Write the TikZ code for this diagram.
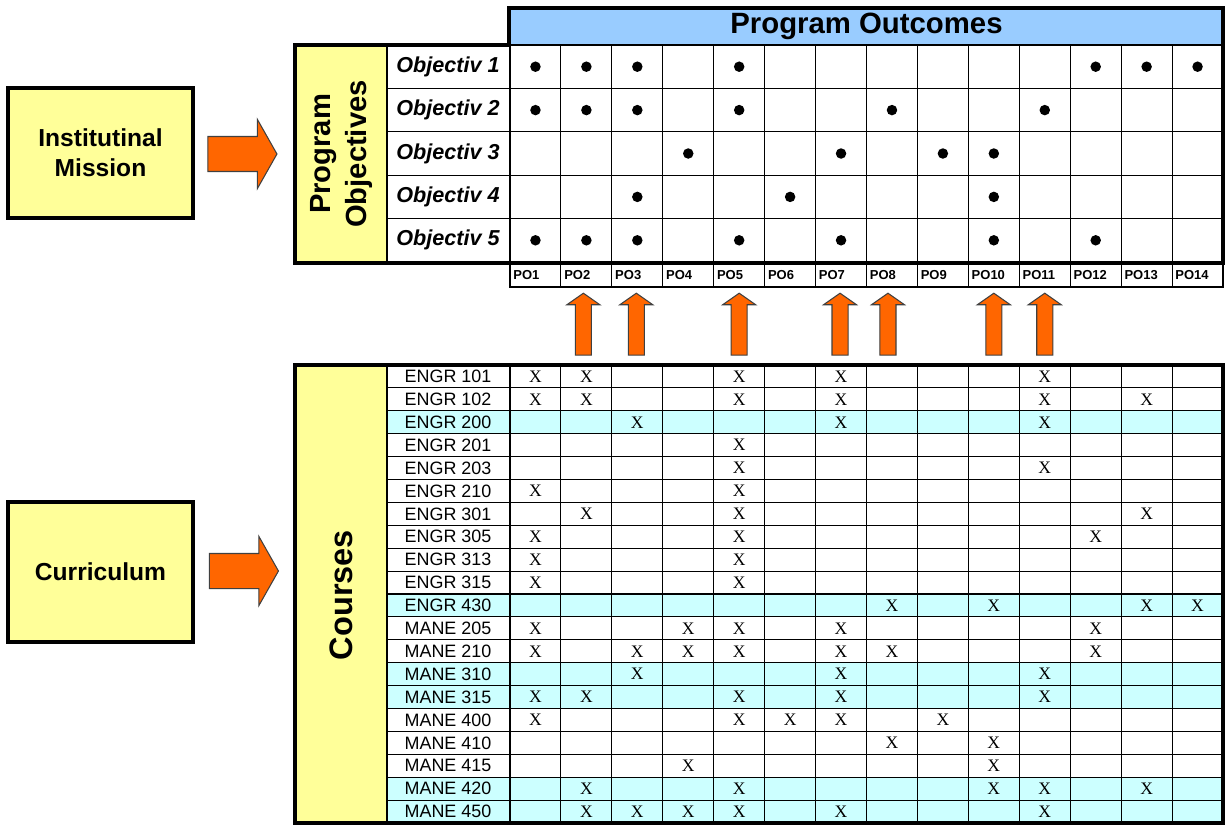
\documentclass[tikz,border=0pt]{standalone}
\usepackage{fontspec}
\setmainfont{Liberation Sans}
\newfontfamily\markfont{Liberation Serif}
\usetikzlibrary{shapes.arrows}
\definecolor{boxyellow}{HTML}{FFFF99}
\definecolor{headblue}{HTML}{99CCFF}
\definecolor{rowcyan}{HTML}{CCFFFF}
\definecolor{arroworange}{HTML}{FF6600}

\tikzset{
  frame/.style={line width=2.3pt},
  sepline/.style={line width=1.7pt},
  gridline/.style={line width=0.6pt},
  sidebox/.style={draw, line width=1.8pt, fill=boxyellow, align=center,
    font=\bfseries\fontsize{14}{17}\selectfont, minimum width=3.7cm},
  fatarrow/.style={single arrow, draw=black!75, fill=arroworange, line width=0.6pt,
    inner xsep=0pt},
  dot/.style={circle, fill=black, inner sep=0pt, minimum size=0.21cm},
  xmark/.style={font=\markfont\fontsize{10}{12}\selectfont, inner sep=0pt},
}

\begin{document}
\begin{tikzpicture}[x=0.02cm, y=-0.02cm]
  \useasboundingbox (0,0) rectangle (1225,825);
  \def\cw{50.93}
  \def\orh{43.4}
  \def\crh{22.9}

  % left boxes and arrows
  \node[sidebox, minimum height=2.6cm] (mission) at (100.5,153) {Institutinal\\Mission};
  \node[sidebox, minimum height=2.8cm] (curric) at (100.5,572) {Curriculum};
  \node[fatarrow, inner ysep=0.34cm, minimum height=1.38cm, single arrow head extend=0.34cm,
    single arrow tip angle=121] (marrow) at (237.5,154) {};
  \node[fatarrow, inner ysep=0.34cm, minimum height=1.38cm, single arrow head extend=0.34cm,
    single arrow tip angle=121] (carrow) at (239,571) {};

  % objectives table
  \fill[headblue] (510,8) rectangle (1223,45);
  \fill[boxyellow] (295,45) rectangle (387,263);
  \node[font=\bfseries\fontsize{16.7}{20}\selectfont] (outcomes) at (866.5,26) {Program Outcomes};
  \node[rotate=90, align=center, font=\bfseries\fontsize{16.6}{20.5}\selectfont]
    (objectives) at (341,154) {Program\\Objectives};
  \foreach \i in {1,...,13}
    \draw[gridline] (510+\i*\cw,45) -- (510+\i*\cw,287);
  \foreach \k in {1,...,4}
    \draw[gridline] (387,45+\k*\orh) -- (1223,45+\k*\orh);
  \foreach \k in {1,...,5}
    \node[font=\bfseries\itshape\fontsize{12.3}{14}\selectfont] (obj\k)
      at (448,45+\k*\orh-0.5*\orh) {Objectiv \k};
  \foreach \i in {1,...,14}
    \node[anchor=west, inner sep=0pt, font=\bfseries\fontsize{7.4}{9}\selectfont] (po\i)
      at (510+\i*\cw-\cw+3,275) {PO\i};
  \draw[line width=1.4pt] (510,263) rectangle (1223,287);
  \draw[sepline] (387,45) -- (387,263) (510,45) -- (510,263) (295,45) -- (1223,45);
  \draw[frame] (509,8) -- (1223,8) -- (1223,263) -- (295,263) -- (295,45) -- (509,45) -- cycle;
  \foreach \r/\cols in {1/{1,2,3,5,12,13,14}, 2/{1,2,3,5,8,11}, 3/{4,7,9,10},
      4/{3,6,10}, 5/{1,2,3,5,7,10,12}}
    \foreach \c in \cols
      \node[dot] (d\r-\c) at (510+\c*\cw-0.5*\cw,45+\r*\orh-0.5*\orh) {};

  % arrows from courses to outcomes
  \foreach \c/\dx in {2/-3,3/-1,5/0,7/-1,8/-4,10/0,11/0}
    \node[fatarrow, rotate=90, inner ysep=0.15cm, minimum height=1.24cm,
      single arrow head extend=0.17cm, single arrow tip angle=110] (up\c)
      at (510+\c*\cw-0.5*\cw+\dx,327) {};

  % courses table
  \fill[boxyellow] (295,365) rectangle (387,823);
  \foreach \r in {3,11,14,15,19,20}
    \fill[rowcyan] (387,365+\r*\crh-\crh) rectangle (1223,365+\r*\crh);
  \node[rotate=90, font=\bfseries\fontsize{18.5}{22}\selectfont] (courses) at (341,595) {Courses};
  \foreach \i in {1,...,13}
    \draw[gridline] (510+\i*\cw,365) -- (510+\i*\cw,823);
  \foreach \k in {1,...,19}
    \draw[gridline] (387,365+\k*\crh) -- (1223,365+\k*\crh);
  \foreach \name [count=\r] in {ENGR 101,ENGR 102,ENGR 200,ENGR 201,ENGR 203,ENGR 210,
      ENGR 301,ENGR 305,ENGR 313,ENGR 315,ENGR 430,MANE 205,MANE 210,MANE 310,
      MANE 315,MANE 400,MANE 410,MANE 415,MANE 420,MANE 450}
    \node[font=\fontsize{10.2}{12}\selectfont, inner sep=0pt] (course\r)
      at (448,365+\r*\crh-0.5*\crh) {\name};
  \draw[sepline] (387,365) -- (387,823) (510,365) -- (510,823);
  \draw[frame] (295,365) rectangle (1223,823);
  \foreach \r/\cols in {1/{1,2,5,7,11}, 2/{1,2,5,7,11,13}, 3/{3,7,11}, 4/{5}, 5/{5,11},
      6/{1,5}, 7/{2,5,13}, 8/{1,5,12}, 9/{1,5}, 10/{1,5}, 11/{8,10,13,14},
      12/{1,4,5,7,12}, 13/{1,3,4,5,7,8,12}, 14/{3,7,11}, 15/{1,2,5,7,11},
      16/{1,5,6,7,9}, 17/{8,10}, 18/{4,10}, 19/{2,5,10,11,13}, 20/{2,3,4,5,7,11}}
    \foreach \c in \cols
      \node[xmark] (x\r-\c) at (510+\c*\cw-0.5*\cw,365+\r*\crh-0.5*\crh) {X};
\end{tikzpicture}
\end{document}
